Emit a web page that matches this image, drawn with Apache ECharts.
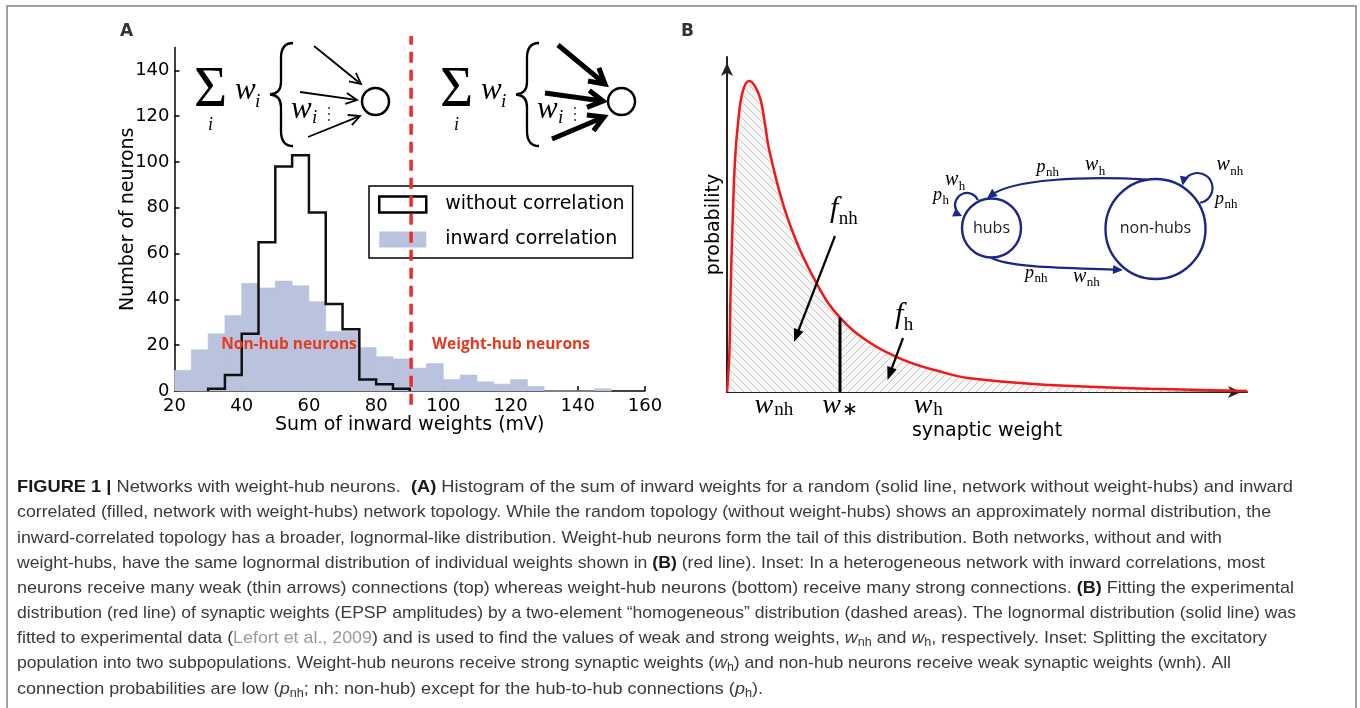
<!DOCTYPE html>
<html><head><meta charset="utf-8">
<script src="https://cdn.jsdelivr.net/npm/echarts@6/dist/echarts.min.js"></script>
<style>html,body{margin:0;padding:0;background:#fff}#c{width:1360px;height:708px}</style>
</head><body><div id="c"></div>
<script>
// ================= Panel A data =================
const binStarts = [20,25,30,35,40,45,50,55,60,65,70,75,80,85,90,95,100,105,110,115,120,125,130,135,140,145];
const binWidth = 5;
const inwardCounts = [9,18,25,33,47,45,48,46,39,26,26,19,15,14,10,12,5,7,4,3,5,2,0,0,0,1];
const withoutEdges = [30,35,40,45,50,55,60,65,70,75,80,85,90];
const withoutCounts = [1,7,25,65,98,103,78,38,27,5,3,1];
const hubThreshold = 90.4;
const xTicksA = [20,40,60,80,100,120,140,160];
const yTicksA = [0,20,40,60,80,100,120,140];
const seriesNamesA = ['without correlation','inward correlation'];
const regionLabelsA = ['Non-hub neurons','Weight-hub neurons'];

// ================= Panel B data =================
const curveX = [0,0.45,0.71,1.09,1.54,2.18,3.01,4.23,5.38,6.47,7.18,8.27,11.79,17.24,21.73,27.5,33.9,40.3,46.7,62.1,81.3,100];
const curveY = [0,11.5,31.4,51.3,69.3,81.2,89.6,92.8,91.3,87.2,81.2,71.2,51.3,32.4,22.2,14.7,9.6,6.4,4.1,2.1,1.0,0.3];
const wStar = 21.73, wStarHeight = 22.2;
const weightTickValues = [9.0, 38.7];
const weightLabelValues = [9.0, 21.73, 38.7];
const weightLabelSubs = ['nh','\u2217','h'];

// ================= Caption =================
const captionLines = [
 [['b','FIGURE 1 | '],['n','Networks with weight-hub neurons.  '],['b','(A)'],['n',' Histogram of the sum of inward weights for a random (solid line, network without weight-hubs) and inward']],
 [['n','correlated (filled, network with weight-hubs) network topology. While the random topology (without weight-hubs) shows an approximately normal distribution, the']],
 [['n','inward-correlated topology has a broader, lognormal-like distribution. Weight-hub neurons form the tail of this distribution. Both networks, without and with']],
 [['n','weight-hubs, have the same lognormal distribution of individual weights shown in '],['b','(B)'],['n',' (red line). Inset: In a heterogeneous network with inward correlations, most']],
 [['n','neurons receive many weak (thin arrows) connections (top) whereas weight-hub neurons (bottom) receive many strong connections. '],['b','(B)'],['n',' Fitting the experimental']],
 [['n','distribution (red line) of synaptic weights (EPSP amplitudes) by a two-element \u201chomogeneous\u201d distribution (dashed areas). The lognormal distribution (solid line) was']],
 [['n','fitted to experimental data ('],['g','Lefort et al., 2009'],['n',') and is used to find the values of weak and strong weights, '],['i','w'],['s','nh'],['n',' and '],['i','w'],['s','h'],['n',', respectively. Inset: Splitting the excitatory']],
 [['n','population into two subpopulations. Weight-hub neurons receive strong synaptic weights ('],['i','w'],['s','h'],['n',') and non-hub neurons receive weak synaptic weights (wnh). All']],
 [['n','connection probabilities are low ('],['i','p'],['s','nh'],['n','; nh: non-hub) except for the hub-to-hub connections ('],['i','p'],['s','h'],['n',').']]
];
const captionRight = [1293,1271,1222,1265,1294,1296,1267,1231,763];
const captionY = [487,512,538,563,588,613,638,663,689];

// ================= helpers =================
const SERIF = "'Liberation Serif'";
const measCtx = document.createElement('canvas').getContext('2d');
function mathGlyph(x, baseline, text, size, italic, align, color) {
  return {type:'text', x:x, y: baseline - 0.3375*size, z:50,
    style:{text:text, font:(italic?'italic ':'')+size+'px '+SERIF, fill:color||'#000', align:align||'left', verticalAlign:'middle'}};
}
function headEls(tx, ty, ux, uy, hl, hw, color, open, lw) {
  const bx = tx-ux*hl, by = ty-uy*hl, px=-uy, py=ux;
  const L=[bx+px*hw, by+py*hw], R=[bx-px*hw, by-py*hw];
  if (open) return [{type:'polyline', z:50, shape:{points:[L,[tx,ty],R]}, style:{stroke:color, lineWidth:lw, fill:null, lineJoin:'miter', lineCap:'butt'}}];
  return [{type:'polygon', z:51, shape:{points:[[tx,ty],L,R]}, style:{fill:color}}];
}
function arrowEls(x1,y1,x2,y2,o) {
  const dx=x2-x1, dy=y2-y1, Ln=Math.hypot(dx,dy), ux=dx/Ln, uy=dy/Ln;
  const endBack = o.open ? o.w*0.5 : o.hl*0.7;
  return [{type:'line', z:50, shape:{x1:x1,y1:y1,x2:x2-ux*endBack,y2:y2-uy*endBack}, style:{stroke:o.c, lineWidth:o.w, lineCap:'butt'}}]
    .concat(headEls(x2,y2,ux,uy,o.hl,o.hw,o.c,o.open,o.w));
}
function braceEls(dx) {
  const st = {stroke:'#000', lineWidth:2.3, fill:null};
  const X = v => v+dx;
  return [
    {type:'bezierCurve', z:50, shape:{x1:X(293),y1:43,cpx1:X(284),cpy1:43,cpx2:X(281),cpy2:49,x2:X(281),y2:58}, style:st},
    {type:'line', z:50, shape:{x1:X(281),y1:58,x2:X(281),y2:82}, style:st},
    {type:'bezierCurve', z:50, shape:{x1:X(281),y1:82,cpx1:X(281),cpy1:90,cpx2:X(277),cpy2:94,x2:X(270),y2:94.5}, style:st},
    {type:'bezierCurve', z:50, shape:{x1:X(270),y1:94.5,cpx1:X(277),cpy1:95,cpx2:X(281),cpy2:99,x2:X(281),y2:107}, style:st},
    {type:'line', z:50, shape:{x1:X(281),y1:107,x2:X(281),y2:131}, style:st},
    {type:'bezierCurve', z:50, shape:{x1:X(281),y1:131,cpx1:X(281),cpy1:140,cpx2:X(284),cpy2:146,x2:X(293),y2:146}, style:st}
  ];
}
function formulaEls(dx, arrows, aopt) {
  let els = [];
  els.push(mathGlyph(210.5+dx, 110, '\u03A3', 57, false, 'center'));
  els.push(mathGlyph(210.5+dx, 131, 'i', 18, true, 'center'));
  els.push(mathGlyph(235+dx, 101, 'w', 31, true));
  els.push(mathGlyph(255+dx, 108, 'i', 19, true));
  els = els.concat(braceEls(dx));
  arrows.forEach(a => { els = els.concat(arrowEls(a[0],a[1],a[2],a[3],aopt)); });
  els.push({type:'circle', z:50, shape:{cx:375.5+dx, cy:101.5, r:13.5}, style:{stroke:'#000', lineWidth:2.5, fill:null}});
  els.push(mathGlyph(291+dx, 120, 'w', 31, true));
  els.push(mathGlyph(312+dx, 124, 'i', 19, true));
  [108,114,120].forEach(y => els.push({type:'circle', z:50, shape:{cx:329+dx, cy:y, r:1}, style:{fill:'#333'}}));
  return els;
}
function mathSub(x, baseline, base, sub, size, subSize, color) {
  measCtx.font = 'italic '+size+'px '+SERIF;
  const w = measCtx.measureText(base).width;
  return [mathGlyph(x, baseline, base, size, true, 'left', color), mathGlyph(x+w+0.5, baseline+0.2*size, sub, subSize, false, 'left', color)];
}
function hatch(dir) {
  const s = 8, c = document.createElement('canvas'); c.width = s; c.height = s;
  const g = c.getContext('2d');
  g.fillStyle = '#f6f6f6'; g.fillRect(0,0,s,s);
  g.strokeStyle = '#bcbcbc'; g.lineWidth = 0.8; g.beginPath();
  for (let k=-1;k<=1;k++) {
    if (dir>0) { g.moveTo(k*s,0); g.lineTo(k*s+s,s); }
    else { g.moveTo(k*s+s,0); g.lineTo(k*s,s); }
  }
  g.stroke();
  return c;
}
function captionEl(segs, x, yc, right) {
  const base = 17; let cx = 0; const kids = [];
  segs.forEach(([kind, t]) => {
    let font = base+"px 'Liberation Sans'", fill = '#3a3a3a', dy = 0;
    if (kind==='b') { font = "bold "+base+"px 'Liberation Sans'"; fill = '#1a1a1a'; }
    else if (kind==='i') font = "italic "+base+"px 'Liberation Sans'";
    else if (kind==='s') { font = "12px 'Liberation Sans'"; dy = 4.5; }
    else if (kind==='g') fill = '#9a9a9a';
    measCtx.font = font;
    const w = measCtx.measureText(t).width;
    kids.push({type:'text', x:cx, y:dy, style:{text:t, font:font, fill:fill, align:'left', verticalAlign:'middle'}});
    cx += w;
  });
  return {type:'group', x:x, y:yc, scaleX:(right-x)/cx, scaleY:1, children:kids};
}

// ================= graphics =================
const NAVY = '#1c2688';
let gfx = [];
gfx.push({type:'rect', z:0, shape:{x:7,y:6,width:1349,height:730}, style:{stroke:'#808080', lineWidth:1.5, fill:null}});
gfx.push({type:'text', x:120, y:32, z:50, style:{text:'A', font:"bold 17px 'DejaVu Sans'", fill:'#333', verticalAlign:'middle'}});
gfx.push({type:'text', x:681, y:32, z:50, style:{text:'B', font:"bold 17px 'DejaVu Sans'", fill:'#333', verticalAlign:'middle'}});
// insets of panel A
gfx = gfx.concat(formulaEls(0, [[314,46,361,84],[300,92,357,100],[308,137,360,116]], {w:1.8, hl:11, hw:5.5, c:'#000', open:true}));
gfx = gfx.concat(formulaEls(246, [[558,45,605,84],[545,93,603,101],[552,139,604,117]], {w:5, hl:15, hw:8.5, c:'#000', open:true}));
gfx.push({type:'text', x:289, y:345, z:50, style:{text:regionLabelsA[0], font:"bold 15.5px 'Open Sans'", fill:'#e63a1f', align:'center', verticalAlign:'middle'}});
gfx.push({type:'text', x:511, y:345, z:50, style:{text:regionLabelsA[1], font:"bold 15.5px 'Open Sans'", fill:'#e63a1f', align:'center', verticalAlign:'middle'}});
// panel B annotations
gfx = gfx.concat(arrowEls(835,236,794,342,{w:2.2, hl:13, hw:5, c:'#000', open:false}));
gfx = gfx.concat(arrowEls(903,338,887.5,380,{w:2.2, hl:13, hw:5, c:'#000', open:false}));
gfx = gfx.concat(mathSub(830, 219, 'f', 'nh', 30, 19));
gfx = gfx.concat(mathSub(895, 325, 'f', 'h', 30, 19));
// network inset
gfx.push({type:'circle', z:50, shape:{cx:991.5, cy:228, r:29.5}, style:{stroke:NAVY, lineWidth:2.4, fill:'#fff'}});
gfx.push({type:'circle', z:50, shape:{cx:1155.5, cy:229, r:50}, style:{stroke:NAVY, lineWidth:2.4, fill:'#fff'}});
gfx.push({type:'text', x:991.5, y:228, z:51, style:{text:'hubs', font:"16px 'Open Sans'", fill:'#222', align:'center', verticalAlign:'middle'}});
gfx.push({type:'text', x:1155.5, y:228, z:51, style:{text:'non-hubs', font:"16px 'Open Sans'", fill:'#222', align:'center', verticalAlign:'middle'}});
function bez(x1,y1,c1x,c1y,c2x,c2y,x2,y2) {
  const dx=x2-c2x, dy=y2-c2y, L=Math.hypot(dx,dy);
  return [{type:'bezierCurve', z:50, shape:{x1:x1,y1:y1,cpx1:c1x,cpy1:c1y,cpx2:c2x,cpy2:c2y,x2:x2-dx/L*5,y2:y2-dy/L*5}, style:{stroke:NAVY, lineWidth:2.2, fill:null}}]
    .concat(headEls(x2,y2,dx/L,dy/L,10,4.5,NAVY,false,2));
}
function loop(cx,cy,r,a0,a1) {
  const t0=a0*Math.PI/180, t1=a1*Math.PI/180;
  const tx=cx+r*Math.cos(t1), ty=cy+r*Math.sin(t1);
  return [{type:'arc', z:50, shape:{cx:cx,cy:cy,r:r,startAngle:t0,endAngle:t1+0.25,clockwise:false}, style:{stroke:NAVY, lineWidth:2.2, fill:null}}]
    .concat(headEls(tx,ty,Math.sin(t1),-Math.cos(t1),9,4.5,NAVY,false,2));
}
gfx = gfx.concat(bez(1147,179.5,1085,176,1012,179,987,198.5));
gfx = gfx.concat(bez(991,257.5,1010,269,1085,268,1123,270));
gfx = gfx.concat(loop(967,205,12,-25,114));
gfx = gfx.concat(loop(1197.5,188,15,80,-170));
gfx = gfx.concat(mathSub(1036.5,173,'p','nh',18,13));
gfx = gfx.concat(mathSub(1085,171.5,'w','h',20,13));
gfx = gfx.concat(mathSub(945,186.5,'w','h',20,13));
gfx = gfx.concat(mathSub(933,201,'p','h',18,13));
gfx = gfx.concat(mathSub(1216.5,171.5,'w','nh',20,13));
gfx = gfx.concat(mathSub(1215,205,'p','nh',18,13));
gfx = gfx.concat(mathSub(1025,279,'p','nh',18,13));
gfx = gfx.concat(mathSub(1073,283,'w','nh',20,13));
// caption
captionLines.forEach((segs,i) => gfx.push(captionEl(segs, 17, captionY[i], captionRight[i])));

// ================= series data =================
const fillData = binStarts.map((s,i) => [s, s+binWidth, inwardCounts[i]]);
const outlinePts = [[withoutEdges[0],0]]
  .concat(withoutCounts.map((v,i) => [withoutEdges[i], v]))
  .concat([[withoutEdges[withoutEdges.length-1], 0]]);
const curvePts = curveX.map((x,i) => [x, curveY[i]]);
const leftPts = curvePts.filter(p => p[0] <= wStar);
const rightPts = curvePts.filter(p => p[0] >= wStar);

const axisFont = {color:'#000', fontSize:19, fontFamily:'DejaVu Sans'};
const tickFont = {color:'#000', fontSize:18, fontFamily:'DejaVu Sans'};
const chart = echarts.init(document.getElementById('c'), null, {renderer:'canvas', width:1360, height:708});
chart.setOption({
  animation:false,
  backgroundColor:'#fff',
  grid:[
    {left:174.5, top:47.5, width:470.5, height:343.5, outerBoundsMode:'none'},
    {left:727, top:57, width:520, height:335, outerBoundsMode:'none'}
  ],
  legend:{
    left:369, top:186, orient:'vertical', itemWidth:47, itemHeight:16, itemGap:16,
    padding:[9,8,9,9], borderColor:'#000', borderWidth:1.5, borderRadius:0, backgroundColor:'#fff',
    textStyle:{color:'#000', fontSize:19, fontFamily:'DejaVu Sans', lineHeight:16, padding:[0,0,0,14]},
    data:[
      {name:seriesNamesA[0], icon:'rect', itemStyle:{color:'#fff', borderColor:'#000', borderWidth:2.5}},
      {name:seriesNamesA[1], icon:'rect', itemStyle:{color:'#b9c3dd', borderWidth:0}}
    ]
  },
  xAxis:[
    {gridIndex:0, type:'value', min:20, max:160, interval:20,
     axisLine:{show:true, onZero:false, lineStyle:{color:'#000', width:1.5}},
     axisTick:{show:true, inside:true, length:5, customValues:xTicksA, lineStyle:{color:'#000', width:1.5}},
     axisLabel:{show:true, customValues:xTicksA, margin:6, ...tickFont},
     splitLine:{show:false},
     name:'Sum of inward weights (mV)', nameLocation:'middle', nameGap:24, nameTextStyle:axisFont},
    {gridIndex:1, type:'value', min:0, max:100,
     axisLine:{show:true, onZero:false, symbol:['none','arrow'], symbolSize:[9,13], symbolOffset:[0,-6], lineStyle:{color:'#222', width:2}},
     axisTick:{show:true, inside:true, length:7, customValues:weightTickValues, lineStyle:{color:'#000', width:3}},
     axisLabel:{show:true, customValues:weightLabelValues, margin:0,
       formatter: v => { let k=0, d=1e9; weightLabelValues.forEach((u,j)=>{ if (Math.abs(u-v)<d){d=Math.abs(u-v);k=j;} }); return '{w|w}{s|'+weightLabelSubs[k]+'}'; },
       rich:{
         w:{fontFamily:'Liberation Serif', fontStyle:'italic', fontSize:28, lineHeight:14, verticalAlign:'top', color:'#000'},
         s:{fontFamily:'Liberation Serif', fontSize:19, lineHeight:14, padding:[9,0,0,1], verticalAlign:'top', color:'#000'}
       }},
     splitLine:{show:false},
     name:'synaptic weight', nameLocation:'middle', nameGap:30, nameTextStyle:axisFont}
  ],
  yAxis:[
    {gridIndex:0, type:'value', min:0, max:150,
     axisLine:{show:true, onZero:false, lineStyle:{color:'#000', width:1.5}},
     axisTick:{show:true, inside:true, length:5, customValues:yTicksA, lineStyle:{color:'#000', width:1.5}},
     axisLabel:{show:true, customValues:yTicksA, margin:5, ...tickFont},
     splitLine:{show:false},
     name:'Number of neurons', nameLocation:'middle', nameGap:37, nameMoveOverlap:false, nameRotate:90, nameTextStyle:axisFont},
    {gridIndex:1, type:'value', min:0, max:100,
     axisLine:{show:true, onZero:false, symbol:['none','arrow'], symbolSize:[9,13], symbolOffset:[0,-6], lineStyle:{color:'#222', width:2}},
     axisTick:{show:false}, axisLabel:{show:false}, splitLine:{show:false},
     name:'probability', nameLocation:'middle', nameGap:3, nameRotate:90, nameTextStyle:axisFont}
  ],
  series:[
    {name:seriesNamesA[1], type:'custom', xAxisIndex:0, yAxisIndex:0, z:1, data:fillData,
     encode:{x:[0,1], y:2}, itemStyle:{color:'#b9c3dd'},
     renderItem:(params, api) => {
       const p0 = api.coord([api.value(0), api.value(2)]);
       const p1 = api.coord([api.value(1), 0]);
       return {type:'rect', shape:{x:p0[0], y:p0[1], width:p1[0]-p0[0], height:p1[1]-p0[1]},
               style:{fill:'#b9c3dd', stroke:'#b9c3dd', lineWidth:0.6}};
     }},
    {name:seriesNamesA[0], type:'line', step:'end', xAxisIndex:0, yAxisIndex:0, z:3, data:outlinePts,
     symbol:'none', lineStyle:{color:'#111', width:2.5, join:'miter'}, itemStyle:{color:'#fff'}},
    {name:'threshold', type:'line', xAxisIndex:0, yAxisIndex:0, z:4, clip:false, silent:true,
     data:[[hubThreshold,-6],[hubThreshold,155]], symbol:'none',
     lineStyle:{color:'#ee2b2b', width:3.5, type:[11,7]}},
    {name:'fnh', type:'line', xAxisIndex:1, yAxisIndex:1, z:1, data:leftPts, smooth:0.4, symbol:'none',
     lineStyle:{width:0, opacity:0}, areaStyle:{color:{image:hatch(1), repeat:'repeat'}, opacity:1}},
    {name:'fh', type:'line', xAxisIndex:1, yAxisIndex:1, z:1, data:rightPts, smooth:0.4, symbol:'none',
     lineStyle:{width:0, opacity:0}, areaStyle:{color:{image:hatch(-1), repeat:'repeat'}, opacity:1}},
    {name:'lognormal', type:'line', xAxisIndex:1, yAxisIndex:1, z:5, data:curvePts, smooth:0.4, symbol:'none',
     lineStyle:{color:'#f01818', width:2.5}},
    {name:'wstar', type:'line', xAxisIndex:1, yAxisIndex:1, z:6, data:[[wStar,0],[wStar,wStarHeight]], symbol:'none',
     lineStyle:{color:'#000', width:3}}
  ],
  graphic:{elements:gfx}
});
</script>
</body></html>
